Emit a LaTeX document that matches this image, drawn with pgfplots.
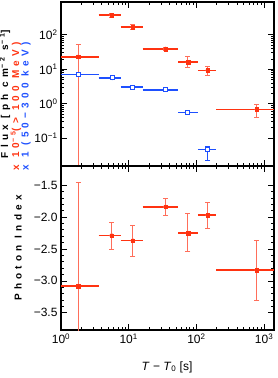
\documentclass[border=0pt]{standalone}
\usepackage{pgfplots}
\pgfplotsset{compat=1.18}
\usepackage{fontspec}
\setmainfont{Liberation Sans}
\newfontfamily\spaced[LetterSpace=42]{Liberation Sans}
\definecolor{myred}{RGB}{255,51,17}
\definecolor{lightred}{RGB}{255,110,90}
\definecolor{myblue}{RGB}{30,80,255}
\pgfplotstableread{
x y ep em
1.8 23 28 22.99
5.6 370 40 40
11.5 170 25 25
35 39 4 4
75 16 7 5
147 9.3 2.7 2.8
780 0.68 0.25 0.27
}\redflux
\pgfplotstableread{
x y ep em
1.8 7.1 0 0
5.7 5.6 0 0
11.5 3.0 0 0
35 2.55 0 0
75 0.56 0 0
147 0.047 0.012 0.025
}\blueflux
\pgfplotstableread{
x y ep em
1.8 -3.08 1.63 1.0
5.6 -2.29 0.21 0.21
11.5 -2.37 0.24 0.24
35 -1.84 0.13 0.14
75 -2.25 0.30 0.29
147 -1.97 0.20 0.21
780 -2.83 0.47 0.47
}\phindex
\begin{document}
\begin{tikzpicture}
\useasboundingbox (-61pt,-48pt) rectangle (216pt,330pt);
% upper panel
\begin{axis}[at={(0pt,164pt)}, anchor=south west,
  scale only axis, width=213pt, height=164pt,
  xmode=log, xmin=1, xmax=1400,
  ymode=log, ymin=0.0155, ymax=900,
  axis line style={line width=1.1pt},
  tick style={black, line width=0.7pt},
  major tick length=6pt, minor tick length=3pt,
  tick align=inside,
  tick label style={font=\fontsize{12}{12}\selectfont},
  xtick={1,10,100,1000},
  xticklabels={},
  ytick={0.1,1,10,100},
  yticklabels={10\textsuperscript{−1},10\textsuperscript{0},10\textsuperscript{1},10\textsuperscript{2}},
  unbounded coords=jump,
]
% horizontal (time-bin) bars, red
\addplot[myred, line width=1.6pt, mark=none] coordinates {
 (1,23) (3.6,23) (nan,nan)
 (3.6,370) (7.6,370) (nan,nan)
 (7.6,170) (16,170) (nan,nan)
 (16,39) (54,39) (nan,nan)
 (54,16) (105,16) (nan,nan)
 (105,9.3) (196,9.3) (nan,nan)
 (196,0.68) (1500,0.68)
};
\addplot[lightred, only marks, mark=none,
  error bars/.cd, y dir=both, y explicit, error mark=-,
  error bar style={line width=0.9pt, draw=lightred},
  error mark options={mark size=2.5pt, line width=0.9pt, draw=lightred, rotate=90}]
  table[x=x,y=y,y error plus=ep,y error minus=em] {\redflux};
\addplot[only marks, mark=square*, mark size=1.8pt, myred] table[x=x,y=y] {\redflux};
% horizontal bars, blue
\addplot[myblue, line width=1.6pt, mark=none] coordinates {
 (1,7.1) (3.6,7.1) (nan,nan)
 (3.6,5.6) (7.6,5.6) (nan,nan)
 (7.6,3.0) (16,3.0) (nan,nan)
 (16,2.55) (54,2.55) (nan,nan)
 (54,0.56) (105,0.56) (nan,nan)
 (105,0.047) (196,0.047)
};
\addplot[myblue, only marks, mark=none,
  error bars/.cd, y dir=both, y explicit, error mark=-,
  error bar style={line width=0.9pt, draw=myblue},
  error mark options={mark size=2.5pt, line width=0.9pt, draw=myblue, rotate=90}]
  table[x=x,y=y,y error plus=ep,y error minus=em] {\blueflux};
\addplot[only marks, mark=square*, mark size=2pt, draw=myblue, fill=white, line width=1pt] table[x=x,y=y] {\blueflux};
\end{axis}
% lower panel
\begin{axis}[at={(0pt,0pt)}, anchor=south west,
  scale only axis, width=213pt, height=164pt,
  xmode=log, xmin=1, xmax=1400,
  ymin=-3.77, ymax=-1.2,
  axis line style={line width=1.1pt},
  tick style={black, line width=0.7pt},
  major tick length=6pt, minor tick length=3pt,
  tick align=inside,
  tick label style={font=\fontsize{12}{12}\selectfont},
  xtick={1,10,100,1000},
  xticklabels={10\textsuperscript{0},10\textsuperscript{1},10\textsuperscript{2},10\textsuperscript{3}},
  ytick={-3.5,-3,-2.5,-2,-1.5},
  yticklabels={−3.5,−3.0,−2.5,−2.0,−1.5},
  minor y tick num=4,
  unbounded coords=jump,
]
\addplot[myred, line width=1.6pt, mark=none] coordinates {
 (1,-3.08) (3.6,-3.08) (nan,nan)
 (3.6,-2.29) (7.6,-2.29) (nan,nan)
 (7.6,-2.37) (16,-2.37) (nan,nan)
 (16,-1.84) (54,-1.84) (nan,nan)
 (54,-2.25) (105,-2.25) (nan,nan)
 (105,-1.97) (196,-1.97) (nan,nan)
 (196,-2.83) (1500,-2.83)
};
\addplot[lightred, only marks, mark=none,
  error bars/.cd, y dir=both, y explicit, error mark=-,
  error bar style={line width=0.9pt, draw=lightred},
  error mark options={mark size=2.5pt, line width=0.9pt, draw=lightred, rotate=90}]
  table[x=x,y=y,y error plus=ep,y error minus=em] {\phindex};
\addplot[only marks, mark=square*, mark size=1.8pt, myred] table[x=x,y=y] {\phindex};
\end{axis}
% labels
\node[rotate=90, font=\fontsize{10}{10}\selectfont\spaced\bfseries] at (-56pt,236pt) {Flux [ph cm\textsuperscript{−2} s\textsuperscript{−1}]};
\node[rotate=90, anchor=west, text=myred, font=\fontsize{10}{10}\selectfont\spaced\bfseries] at (-45pt,156pt) {x 10\textsuperscript{−5}(> 100 MeV)};
\node[rotate=90, anchor=west, text=myblue, font=\fontsize{10}{10}\selectfont\spaced\bfseries] at (-35pt,156pt) {x 1 (50−300 keV)};
\node[rotate=90, font=\fontsize{10}{10}\selectfont\spaced\bfseries] at (-43pt,82pt) {Photon Index};
\node[font=\fontsize{12}{12}\selectfont] at (106pt,-37pt) {\textit{T} − \textit{T}\textsubscript{0} [s]};
\end{tikzpicture}
\end{document}
